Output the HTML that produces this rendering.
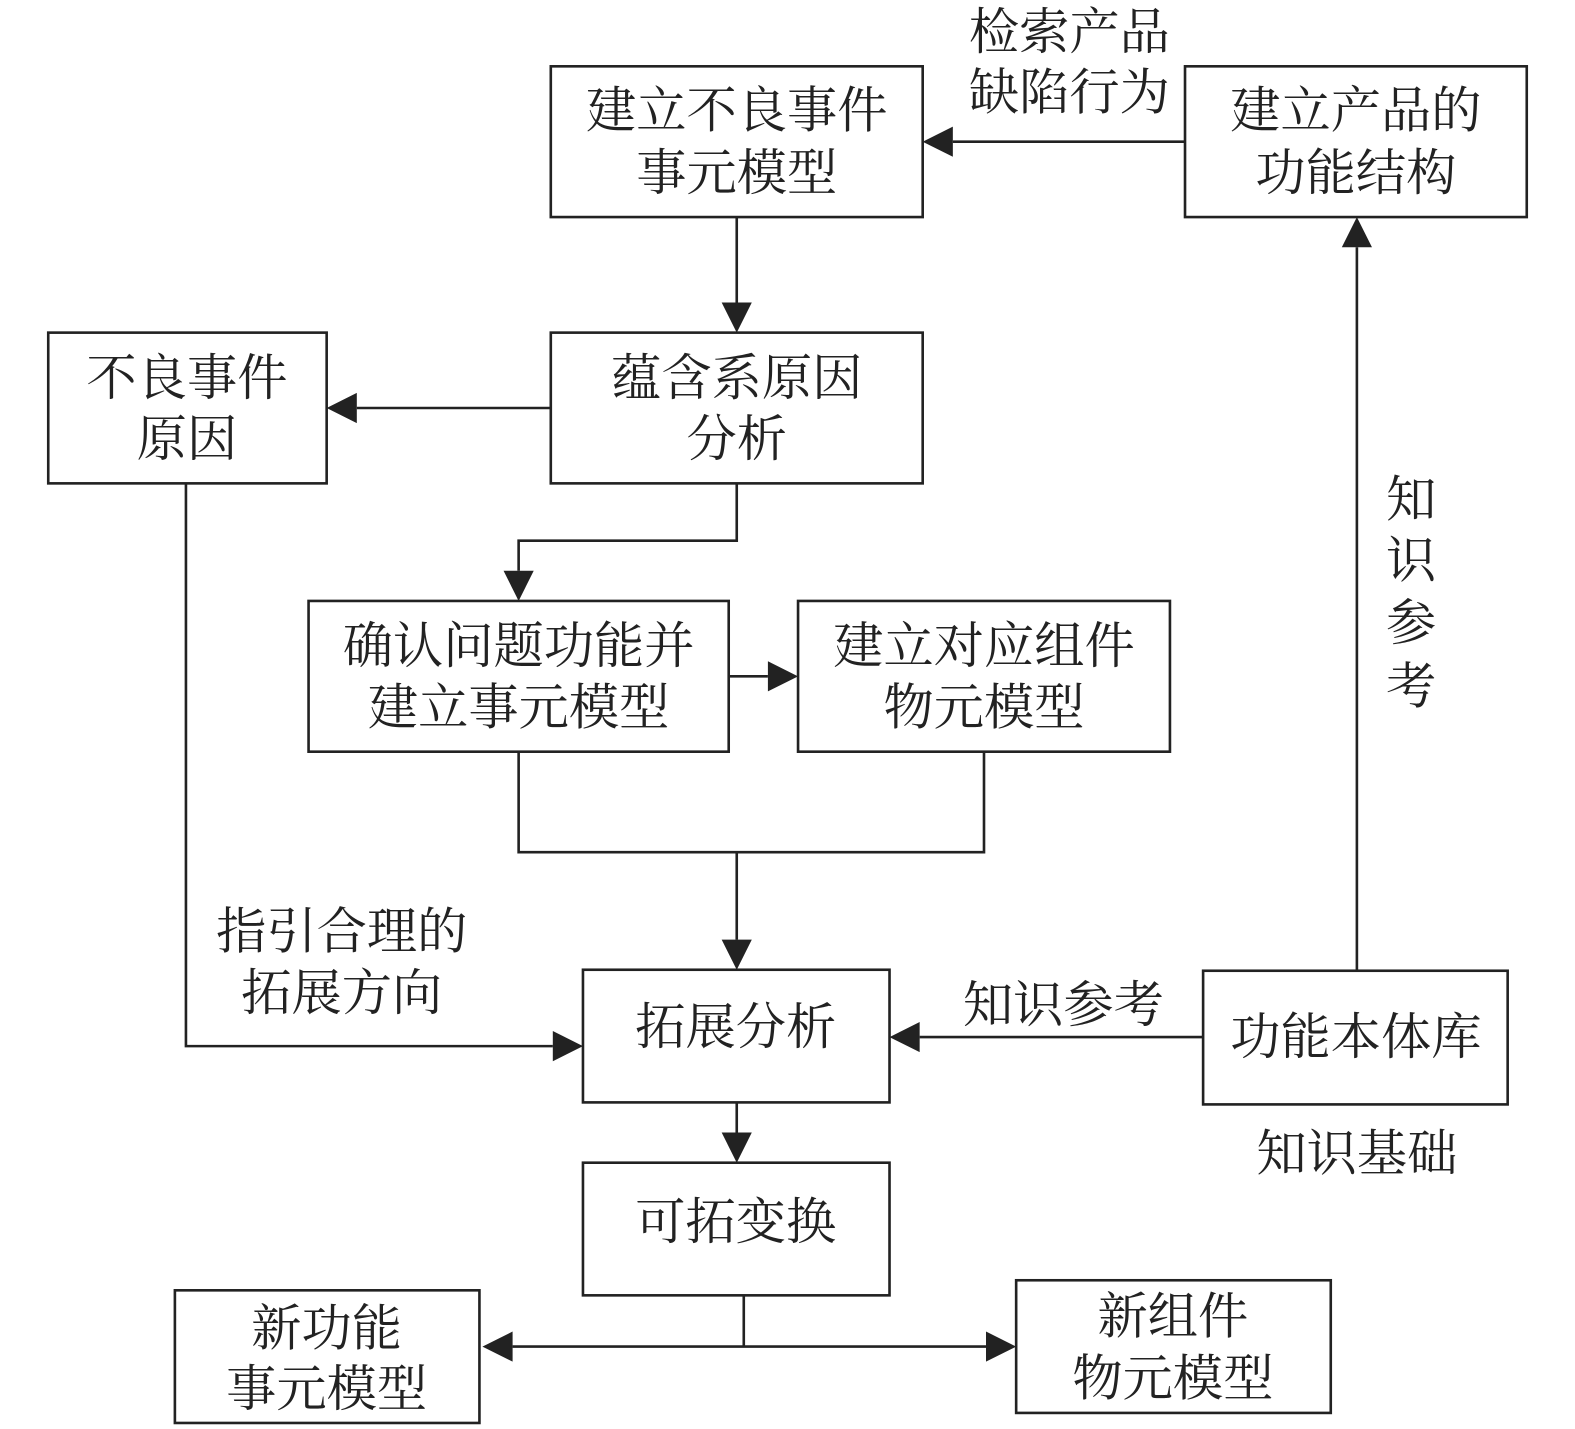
<!DOCTYPE html>
<html><head><meta charset="utf-8"><style>html,body{margin:0;padding:0;background:#fff}svg{display:block}</style></head>
<body>
<svg width="1575" height="1429" viewBox="0 0 1567 1422" preserveAspectRatio="none" xmlns="http://www.w3.org/2000/svg">
<defs><marker id="a" markerWidth="12" markerHeight="12" refX="11" refY="6" orient="auto" markerUnits="userSpaceOnUse" viewBox="0 0 12 12"><path d="M0,0 L12,6 L0,12z" fill="#222"/></marker></defs>
<g fill="none" stroke="#222" stroke-width="2.6">
<rect x="548" y="66" width="370" height="150"/>
<rect x="1179" y="66" width="340" height="150"/>
<rect x="548" y="331" width="370" height="150"/>
<rect x="48" y="331" width="277" height="150"/>
<rect x="307" y="598" width="418" height="150"/>
<rect x="794" y="598" width="370" height="150"/>
<rect x="580" y="965" width="305" height="132"/>
<rect x="1197" y="966" width="303" height="133"/>
<rect x="580" y="1157" width="305" height="132"/>
<rect x="174" y="1284" width="303" height="132"/>
<rect x="1011" y="1274" width="313" height="132"/>
<polyline points="516,748 516,848 979,848 979,748"/>
<line x1="733" y1="848" x2="733" y2="935"/>
<polyline points="185,481 185,1041 550,1041"/>
<polyline points="733,481 733,538 516,538 516,568"/>
<line x1="733" y1="216" x2="733" y2="301"/>
<line x1="1179" y1="141" x2="948" y2="141"/>
<line x1="548" y1="406" x2="355" y2="406"/>
<line x1="725" y1="673" x2="764" y2="673"/>
<line x1="1197" y1="1032" x2="915" y2="1032"/>
<line x1="1350" y1="966" x2="1350" y2="246"/>
<line x1="733" y1="1097" x2="733" y2="1127"/>
<line x1="740" y1="1289" x2="740" y2="1340"/>
<line x1="510" y1="1340" x2="981" y2="1340"/>
</g>
<g fill="#222">
<path d="M733,331 l-15,-30 h30z"/>
<path d="M918,141 l30,-15 v30z"/>
<path d="M325,406 l30,-15 v30z"/>
<path d="M516,598 l-15,-30 h30z"/>
<path d="M794,673 l-30,-15 v30z"/>
<path d="M733,965 l-15,-30 h30z"/>
<path d="M580,1041 l-30,-15 v30z"/>
<path d="M885,1032 l30,-15 v30z"/>
<path d="M1350,216 l-15,30 h30z"/>
<path d="M733,1157 l-15,-30 h30z"/>
<path d="M480,1340 l30,-15 v30z"/>
<path d="M1011,1340 l-30,-15 v30z"/>
</g>
<g font-family="'Liberation Serif','Noto Serif CJK SC',serif" font-size="50" fill="#222" text-anchor="middle" dominant-baseline="central">
<text x="733" y="110">建立不良事件</text><text x="733" y="172">事元模型</text>
<text x="1349" y="110">建立产品的</text><text x="1349" y="172">功能结构</text>
<text x="733" y="376">蕴含系原因</text><text x="733" y="437">分析</text>
<text x="186" y="376">不良事件</text><text x="186" y="437">原因</text>
<text x="516" y="643">确认问题功能并</text><text x="516" y="704">建立事元模型</text>
<text x="979" y="643">建立对应组件</text><text x="979" y="704">物元模型</text>
<text x="732" y="1022">拓展分析</text>
<text x="1349" y="1032">功能本体库</text>
<text x="732" y="1216">可拓变换</text>
<text x="325" y="1322">新功能</text><text x="325" y="1382">事元模型</text>
<text x="1167" y="1310">新组件</text><text x="1167" y="1372">物元模型</text>
<text x="1064" y="32">检索产品</text><text x="1064" y="92">缺陷行为</text>
<text x="340" y="927">指引合理的</text><text x="340" y="988">拓展方向</text>
<text x="1058" y="1000">知识参考</text>
<text x="1350" y="1148">知识基础</text>
<text x="1404" y="497">知</text><text x="1404" y="558">识</text><text x="1404" y="620">参</text><text x="1404" y="683">考</text>
</g>
</svg>
</body></html>
